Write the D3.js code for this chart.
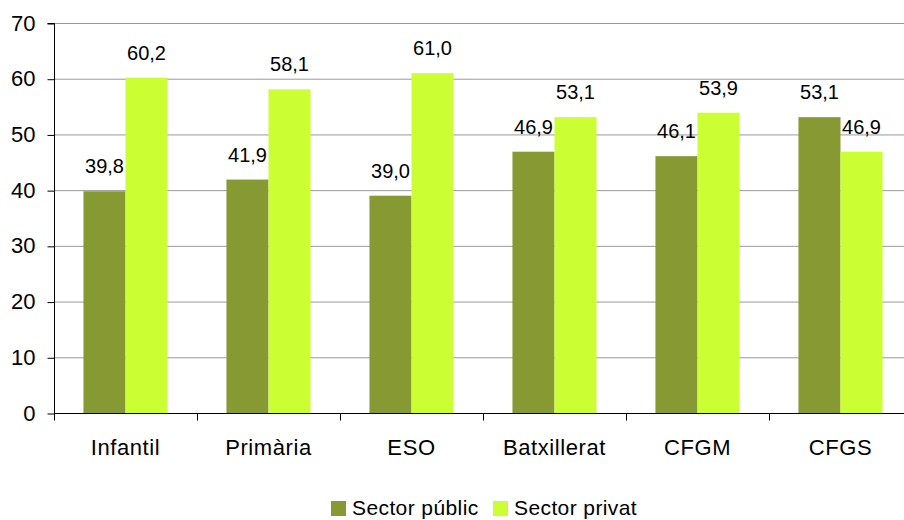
<!DOCTYPE html>
<html>
<head>
<meta charset="utf-8">
<script src="https://cdn.jsdelivr.net/npm/d3@7"></script>
<style>
  body { margin: 0; background: #fff; }
  svg text { font-family: "Liberation Sans", Arial, sans-serif; fill: #000; }
</style>
</head>
<body>
<script>
const categories = ['Infantil', 'Primària', 'ESO', 'Batxillerat', 'CFGM', 'CFGS']
const seriesNames = ['Sector públic', 'Sector privat']
const publicValues = [39.8, 41.9, 39.0, 46.9, 46.1, 53.1]
const privateValues = [60.2, 58.1, 61.0, 53.1, 53.9, 46.9]
const yTicks = [0, 10, 20, 30, 40, 50, 60, 70]

const colors = ['#879933', '#ccff33']
const width = 904,
  height = 520
const margin = { left: 54, right: -8, top: 23, bottom: 107 }

const svg = d3
  .select('body')
  .append('svg')
  .attr('width', width)
  .attr('height', height)

const x0 = d3
  .scaleBand()
  .domain(categories)
  .range([margin.left, width - margin.right])
  .paddingInner(0.412)
  .paddingOuter(0.206)

const x1 = d3.scaleBand().domain(seriesNames).range([0, x0.bandwidth()])

const y = d3
  .scaleLinear()
  .domain([0, 70])
  .range([height - margin.bottom, margin.top])

// gridlines
svg
  .append('g')
  .selectAll('line')
  .data(yTicks.filter((d) => d > 0))
  .join('line')
  .attr('x1', margin.left)
  .attr('x2', width - margin.right)
  .attr('y1', (d) => y(d) + 0.5)
  .attr('y2', (d) => y(d) + 0.5)
  .attr('stroke', '#9a9a9a')
  .attr('stroke-width', 1)

const rows = categories.map((c, i) => ({
  cat: c,
  vals: [publicValues[i], privateValues[i]]
}))

const groups = svg
  .append('g')
  .selectAll('g')
  .data(rows)
  .join('g')
  .attr('transform', (d) => `translate(${x0(d.cat)},0)`)

groups
  .selectAll('rect')
  .data((d) => d.vals.map((v, j) => ({ name: seriesNames[j], v, j })))
  .join('rect')
  .attr('x', (d) => x1(d.name))
  .attr('width', x1.bandwidth())
  .attr('y', (d) => y(d.v))
  .attr('height', (d) => y(0) - y(d.v))
  .attr('fill', (d) => colors[d.j])

groups
  .selectAll('text')
  .data((d) => d.vals.map((v, j) => ({ name: seriesNames[j], v, j })))
  .join('text')
  .attr('x', (d) => x1(d.name) + x1.bandwidth() / 2)
  .attr('y', (d) => y(d.v) - 18)
  .attr('text-anchor', 'middle')
  .attr('font-size', 20)
  .text((d) => d.v.toFixed(1).replace('.', ','))

// y axis
const yAxis = svg
  .append('g')
  .attr('transform', `translate(${margin.left + 0.5},0)`)
  .call(d3.axisLeft(y).tickValues(yTicks).tickSize(7).tickPadding(12))
yAxis.select('.domain').attr('stroke', '#000').attr('d', `M-7,${y(70) + 0.5}H0V${y(0) + 0.5}`)
yAxis.selectAll('.tick line').attr('stroke', '#000').attr('transform', 'translate(0,0.5)')
yAxis.selectAll('.tick text').attr('font-size', 22).attr('font-family', '"Liberation Sans", Arial, sans-serif')

// x axis
const xAxis = svg
  .append('g')
  .attr('transform', `translate(0,${y(0) + 0.5})`)
xAxis
  .append('line')
  .attr('x1', margin.left)
  .attr('x2', width)
  .attr('stroke', '#000')
xAxis
  .selectAll('line.tick')
  .data(d3.range(categories.length + 1))
  .join('line')
  .attr('class', 'tick')
  .attr('x1', (i) => Math.round(margin.left + i * x0.step()) + 0.5)
  .attr('x2', (i) => Math.round(margin.left + i * x0.step()) + 0.5)
  .attr('y1', 0)
  .attr('y2', 7)
  .attr('stroke', '#000')
xAxis
  .selectAll('text')
  .data(categories)
  .join('text')
  .attr('x', (d) => x0(d) + x0.bandwidth() / 2)
  .attr('y', 41)
  .attr('text-anchor', 'middle')
  .attr('font-size', 22)
  .attr('letter-spacing', 0.6)
  .text((d) => d)

// legend
const legend = svg.append('g').attr('transform', 'translate(331,501)')
const items = legend
  .selectAll('g')
  .data(seriesNames)
  .join('g')
  .attr('transform', (d, i) => `translate(${i * 162},0)`)
items
  .append('rect')
  .attr('width', 15)
  .attr('height', 15)
  .attr('fill', (d, i) => colors[i])
items
  .append('text')
  .attr('x', 21)
  .attr('y', 14)
  .attr('font-size', 21)
  .attr('letter-spacing', 0.4)
  .text((d) => d)
</script>
</body>
</html>
